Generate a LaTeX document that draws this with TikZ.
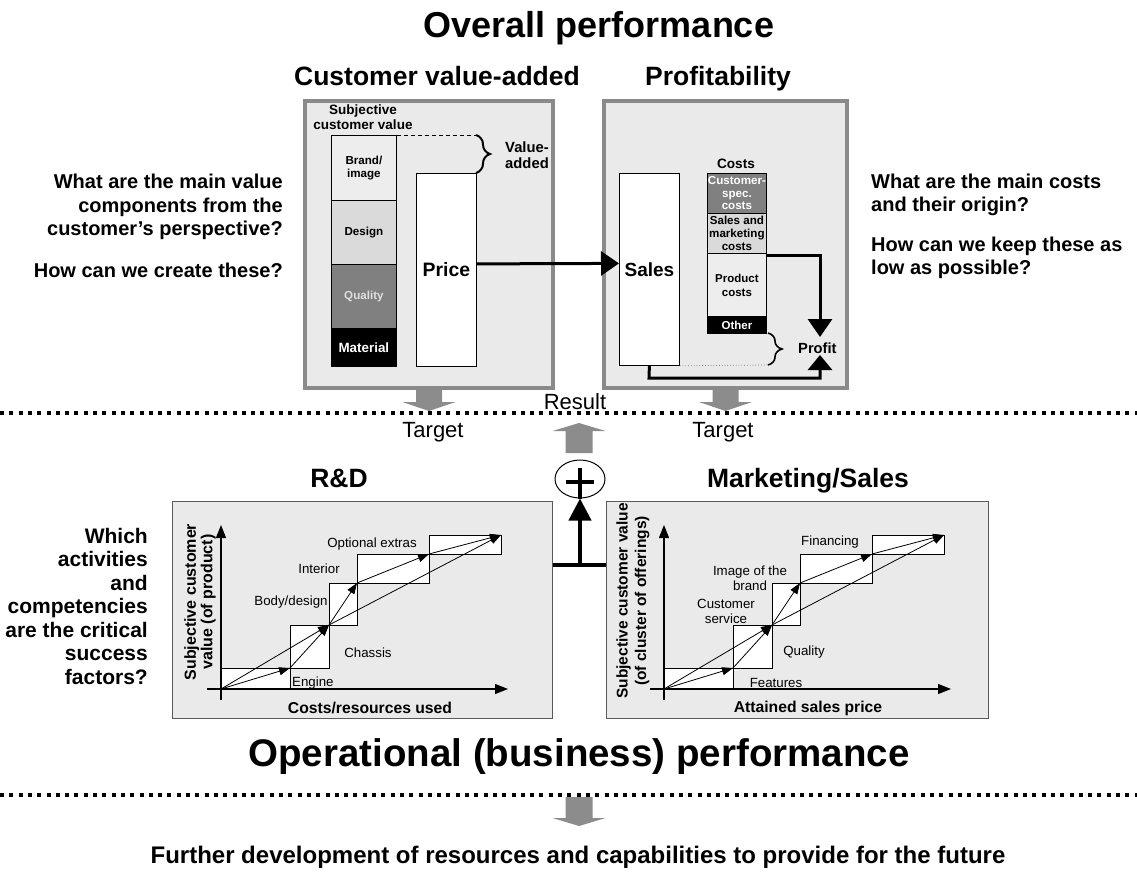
\documentclass[tikz,border=0pt]{standalone}
\usepackage{fontspec}
\setmainfont{Liberation Sans}
\usetikzlibrary{arrows.meta,decorations.pathreplacing,shapes.geometric}
\definecolor{bgfill}{HTML}{EAEAEA}
\definecolor{framegray}{HTML}{8A8A8A}
\definecolor{midgray}{HTML}{808080}
\definecolor{lgray}{HTML}{DADADA}
\definecolor{vlgray}{HTML}{EDEDED}
\definecolor{arrgray}{HTML}{8C8C8C}
\definecolor{panelborder}{HTML}{5A5A5A}
\newcommand{\fsz}[2]{\fontsize{#1pt}{#2pt}\selectfont}
\newcommand{\stairs}[2]{%
  \begin{scope}[xshift=#2pt]
    \coordinate (#1o) at (221,689);
    \coordinate (#1p1) at (290,668);
    \coordinate (#1p2) at (329,625);
    \coordinate (#1p3) at (357,583);
    \coordinate (#1p4) at (429,554);
    \coordinate (#1p5) at (501,535);
    \coordinate (#1xs) at (207,689);
    \coordinate (#1xe) at (508,689);
    \coordinate (#1ys) at (221,700);
    \coordinate (#1ye) at (221,525);
  \end{scope}
  \foreach \a/\b in {o/p1,p1/p2,p2/p3,p3/p4,p4/p5}{\draw[stairbox] (#1\a) rectangle (#1\b);}
  \draw[axisline] (#1xs) -- (#1xe);
  \draw[axisline] (#1ys) -- (#1ye);
  \foreach \a/\b in {o/p1,p1/p2,p2/p3,p3/p4,p4/p5,o/p2,p2/p5}{\draw[garrow] (#1\a) -- (#1\b);}
}
\begin{document}
\begin{tikzpicture}[x=1pt,y=-1pt,
  frm/.style={draw=framegray, fill=bgfill, line width=4pt, anchor=north west, inner sep=0pt},
  blk/.style={draw=black, line width=0.8pt, anchor=north west, inner sep=0pt, align=center, font=\bfseries\fsz{11.6}{12.6}},
  pnl/.style={draw=panelborder, fill=bgfill, line width=1.2pt, anchor=north west, inner sep=0pt},
  thk/.style={line width=3pt, line join=miter, -{Triangle[length=18pt,width=24pt]}},
  bigdot/.style={line width=3.5pt, dash pattern=on 4pt off 5.3pt},
  stairbox/.style={draw=black, fill=white, line width=0.8pt},
  axisline/.style={line width=1.2pt, -{Triangle[length=13pt,width=10pt]}},
  garrow/.style={line width=0.8pt, -{Triangle[length=11pt,width=8pt]}},
  glabel/.style={font=\fsz{13.3}{15}, inner sep=0pt, align=center},
  qtext/.style={font=\bfseries\fsz{20}{23.5}, inner sep=0pt},
  sechead/.style={font=\bfseries\fsz{26.5}{30}, inner sep=0pt, anchor=base},
  bigtitle/.style={font=\bfseries\fsz{36}{40}, inner sep=0pt},
  lbl/.style={font=\fsz{22}{25}, inner sep=0pt}
]
\useasboundingbox (0,0) rectangle (1137,880);
\fill[white] (0,0) rectangle (1137,880);

% titles
\node[bigtitle] (ttop) at (599,28) {Overall performance};
\node[sechead] (tcva) at (437,86) {Customer value-added};
\node[sechead] (tprof) at (718,86) {Profitability};

% frames
\node[frm, minimum width=248pt, minimum height=287pt] (cva) at (303,99) {};
\node[frm, minimum width=243pt, minimum height=287pt] (prof) at (602,99) {};

% target arrows
\fill[arrgray] ([xshift=-13pt]cva.south) -- ++(26,0) -- ++(0,12) -- ++(13.5,0) -- ++(-26.5,9) -- ++(-26.5,-9) -- ++(13.5,0) -- cycle;
\fill[arrgray] ([xshift=-13pt]prof.south) -- ++(26,0) -- ++(0,12) -- ++(13.5,0) -- ++(-26.5,9) -- ++(-26.5,-9) -- ++(13.5,0) -- cycle;

% customer value stack
\node[font=\bfseries\fsz{13.5}{15}, align=center, inner sep=0pt] (subj) at (363,117) {Subjective\\customer value};
\node[blk, fill=vlgray, minimum width=65pt, minimum height=65pt] (brand) at (331,135) {Brand/\\image};
\node[blk, fill=lgray, minimum width=65pt, minimum height=64pt] (design) at (331,200) {Design};
\node[blk, fill=midgray, text=gray!25, minimum width=65pt, minimum height=64pt] (quality) at (331,264) {Quality};
\node[blk, fill=black, text=white, minimum width=65pt, minimum height=38pt, font=\bfseries\fsz{13.4}{15}] (material) at (331,328) {Material};
\node[blk, fill=white, minimum width=60pt, minimum height=193pt, font=\bfseries\fsz{19.4}{22}] (price) at (416,173) {Price};
\coordinate (dashend) at (476,135);
\draw[line width=0.8pt, dash pattern=on 4pt off 3pt] (brand.north east) -- (dashend);
\coordinate (bracetop) at (476,135);
\coordinate (bracebot) at (476,173);
\draw[decorate, decoration={brace, amplitude=14pt}, line width=2pt] (bracetop) -- (bracebot);
\node[font=\bfseries\fsz{14.8}{16}, align=left, anchor=west, inner sep=0pt] (va) at (505,155) {Value-\\added};

% profitability
\node[blk, fill=white, minimum width=60pt, minimum height=192pt, font=\bfseries\fsz{19}{22}] (sales) at (619,173) {Sales};
\node[font=\bfseries\fsz{13.6}{15}, inner sep=0pt] (costslbl) at (736,164) {Costs};
\node[blk, fill=midgray, text=white, minimum width=59pt, minimum height=40pt] (custspec) at (707,173) {Customer-\\spec.\\costs};
\node[blk, fill=lgray, minimum width=59pt, minimum height=40pt] (salesmkt) at (707,213) {Sales and\\marketing\\costs};
\node[blk, fill=vlgray, minimum width=59pt, minimum height=63pt, font=\bfseries\fsz{11.5}{14}] (product) at (707,253) {Product\\costs};
\node[blk, fill=black, text=white, minimum width=59pt, minimum height=17pt, font=\bfseries\fsz{11.5}{13}] (other) at (707,316) {Other};

\draw[thk] ([yshift=6pt]price.east) -- ([yshift=6pt]sales.west);
\coordinate (pc1) at (820,255);
\coordinate (pcend) at (820,337);
\draw[thk] ([yshift=-2pt]product.north east) -- (pc1) -- (pcend);
\coordinate (b2t) at (768,333);
\coordinate (b2b) at (768,365);
\draw[decorate, decoration={brace, amplitude=14pt}, line width=1.6pt] (b2t) -- (b2b);
\node[font=\bfseries\fsz{14.7}{16}, anchor=west, inner sep=0pt] (profit) at (798,348) {Profit};
\draw[dotted, line width=0.8pt, gray] (sales.south east) -- (b2b);
\coordinate (ba1) at (649,378);
\coordinate (ba2) at (820,378);
\coordinate (ba3) at (820,355);
\draw[line width=3pt, line join=miter, -{Triangle[length=15pt,width=24pt]}] (sales.south) -- (ba1) -- (ba2) -- (ba3);

% questions top
\node[qtext, anchor=east, align=right] (q1) at (283,207) {What are the main value\\components from the\\customer’s perspective?};
\node[qtext, anchor=east, align=right] (q2) at (283,270) {How can we create these?};
\node[qtext, anchor=west, align=left] (q3) at (871,195) {What are the main costs\\and their origin?};
\node[qtext, anchor=west, align=left] (q4) at (871,258) {How can we keep these as\\low as possible?};

% dotted separator and labels
\coordinate (d1l) at (0,413);
\coordinate (d1r) at (1137,413);
\draw[bigdot] (d1l) -- (d1r);
\node[lbl] (tgt1) at (433,432) {Target};
\node[lbl] (tgt2) at (723,432) {Target};
\node[lbl] (res) at (575,402) {Result};
\coordinate (resbase) at (579,453);
\fill[arrgray] ([xshift=-13.5pt]resbase) -- ++(27,0) -- ++(0,-22) -- ++(13,0) -- ++(-26.5,-8) -- ++(-26.5,8) -- ++(13,0) -- cycle;

% bottom panels
\node[sechead] (trd) at (339,487) {R\&D};
\node[sechead] (tms) at (808,487) {Marketing/Sales};
\node[pnl, minimum width=380pt, minimum height=217pt] (rd) at (172,501) {};
\node[pnl, minimum width=382pt, minimum height=217pt] (ms) at (606,501) {};

\node[draw, ellipse, minimum width=50pt, minimum height=38pt, line width=1pt, fill=white, inner sep=0pt] (plus) at (580,479) {};
\draw[line width=4pt] (plus.center) ++(-14,3) -- ++(28,0);
\draw[line width=4pt] (plus.center) ++(0,-11) -- (plus.south);
\coordinate (jn) at (580,565);
\draw[line width=4pt] (rd.east |- jn) -- (ms.west |- jn);
\draw[line width=4pt, -{Triangle[length=22pt,width=22pt]}] (jn) -- (plus.south);

% graphs
\stairs{r}{0}
\stairs{m}{443}

\node[glabel] (lopt) at (372,544) {Optional extras};
\node[glabel] (lint) at (319,569) {Interior};
\node[glabel] (lbody) at (291,602) {Body/design};
\node[glabel] (lchas) at (368,653) {Chassis};
\node[glabel, anchor=west] (leng) at (292,683) {Engine};
\node[rotate=90, font=\bfseries\fsz{16}{16.5}, align=center, inner sep=0pt] (rdy) at (200,602) {Subjective customer\\value (of product)};
\node[font=\bfseries\fsz{15.7}{18}, inner sep=0pt] (rdx) at (370,708) {Costs/resources used};

\node[glabel] (lfin) at (830,542) {Financing};
\node[glabel] (limg) at (750,578) {Image of the\\brand};
\node[glabel] (lcs) at (726,611) {Customer\\service};
\node[glabel] (lqual) at (804,652) {Quality};
\node[glabel] (lfeat) at (776,683) {Features};
\node[rotate=90, font=\bfseries\fsz{15.5}{18.5}, align=center, inner sep=0pt] (msy) at (633,601) {Subjective customer value\\(of cluster of offerings)};
\node[font=\bfseries\fsz{15.7}{18}, inner sep=0pt] (msx) at (808,708) {Attained sales price};

\node[font=\bfseries\fsz{21}{23.5}, anchor=east, align=right, inner sep=0pt] (q5) at (148,606) {Which\\activities\\and\\competencies\\are the critical\\success\\factors?};

% bottom
\node[font=\bfseries\fsz{38.5}{42}, inner sep=0pt] (tbot) at (579,757) {Operational (business) performance};
\coordinate (d2l) at (0,795);
\coordinate (d2r) at (1137,795);
\draw[bigdot] (d2l) -- (d2r);
\coordinate (fbase) at (579,797);
\fill[arrgray] ([xshift=-13.5pt]fbase) -- ++(27,0) -- ++(0,21) -- ++(13,0) -- ++(-26.5,8) -- ++(-26.5,-8) -- ++(13,0) -- cycle;
\node[font=\bfseries\fsz{24}{28}, inner sep=0pt] (fut) at (578,857) {Further development of resources and capabilities to provide for the future};
\end{tikzpicture}
\end{document}
